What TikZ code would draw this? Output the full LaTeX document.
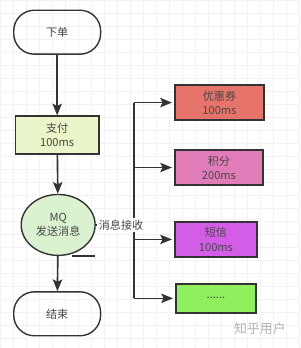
\documentclass[tikz,border=0pt]{standalone}
\usepackage{fontspec}
\setmainfont{Noto Sans CJK SC}
\usetikzlibrary{arrows.meta,positioning,shapes}

\definecolor{payfill}{HTML}{EAF5C9}
\definecolor{mqfill}{HTML}{DAF2CF}
\definecolor{couponfill}{HTML}{E7746A}
\definecolor{pointsfill}{HTML}{E27CB9}
\definecolor{smsfill}{HTML}{D45DE7}
\definecolor{morefill}{HTML}{8FEF5C}
\definecolor{ink}{HTML}{333333}

\begin{document}
\begin{tikzpicture}[x=0.03cm, y=-0.03cm,
    every node/.style={font=\fontsize{9.5}{12}\selectfont, text=ink!90, align=center},
    terminal/.style={draw=ink, line width=1.2pt, rounded corners=0.62cm,
      minimum width=2.61cm, minimum height=1.32cm},
    task/.style={draw=ink, line width=1.2pt, inner sep=0pt},
    line/.style={draw=ink, line width=1.4pt},
    arrow/.style={line, -{Stealth[length=10pt, width=8pt, inset=2pt]}}]
    % background and grid
    \fill[white] (0,0) rectangle (300,348);
    \draw[black!5, step=0.39cm] (0,0) grid (300,348);
    \useasboundingbox (0,0) rectangle (300,348);

    % main flow
    \node[terminal] (order) at (57,32) {下单};
    \node[task, fill=payfill, minimum width=2.52cm, minimum height=1.14cm]
      (pay) at (57,135) {支付\\100ms};
    \node[ellipse, draw=ink, line width=1.2pt, fill=mqfill, inner sep=0pt,
      minimum width=2.22cm, minimum height=1.83cm] (mq) at (58,225) {MQ\\发送消息};
    \node[terminal] (finish) at (57,314) {结束};

    \draw[arrow] (order) -- (pay);
    \draw[arrow] (pay) -- (mq);
    \draw[arrow] (mq) -- (finish);

    \coordinate (tailA) at (72,256);
    \coordinate (tailB) at (95,256);
    \draw[line] (tailA) -- (tailB);

    % consumers
    \node[task, fill=couponfill, minimum width=2.67cm, minimum height=1.05cm]
      (coupon) at (219.5,102.5) {优惠券\\100ms};
    \node[task, fill=pointsfill, minimum width=2.64cm, minimum height=1.05cm]
      (points) at (219,167.5) {积分\\200ms};
    \node[task, fill=smsfill, minimum width=2.46cm, minimum height=1.05cm]
      (sms) at (216,239.5) {短信\\100ms};
    \node[task, fill=morefill, minimum width=2.4cm, minimum height=0.87cm]
      (more) at (216,298.5) {......};

    \coordinate (busTop) at (134,102.5);
    \coordinate (busB) at (134,167.5);
    \coordinate (busMid) at (134,225);
    \coordinate (busC) at (134,239.5);
    \coordinate (busBot) at (134,298.5);

    \draw[line] (busTop) -- (busBot);
    \draw[line] (mq.east) -- (busMid)
      node[pos=0.66, fill=white, inner sep=1.5pt]{消息接收};

    \draw[arrow, shorten >=2pt] (busTop) -- (coupon.west);
    \draw[arrow, shorten >=2pt] (busB) -- (points.west);
    \draw[arrow, shorten >=2pt] (busC) -- (sms.west);
    \draw[arrow, shorten >=2pt] (busBot) -- (more.west);

    \node[text=black!30, font=\fontsize{11}{13}\selectfont] (mark) at (260,329) {知乎用户};
  \end{tikzpicture}
\end{document}
